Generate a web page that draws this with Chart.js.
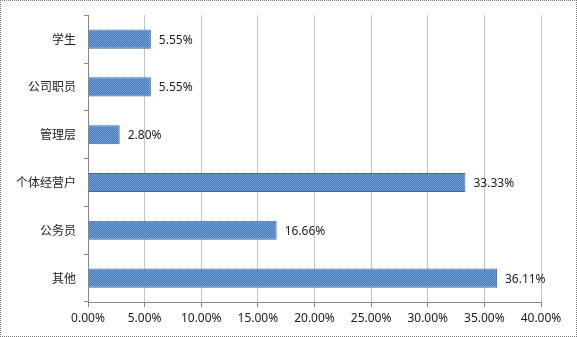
<!DOCTYPE html>
<html>
<head>
<meta charset="utf-8">
<script src="https://cdn.jsdelivr.net/npm/chart.js@4/dist/chart.umd.min.js"></script>
<style>
    body { margin: 0; background: #fff; }
    #wrap { position: relative; width: 577px; height: 337px; }
    #frame { position: absolute; left: 0; top: 0; right: 0; bottom: 0; border: 1px dotted #777; pointer-events: none; }
</style>
</head>
<body>
<div id="wrap">
    <canvas id="chart" width="577" height="337"></canvas>
    <div id="frame"></div>
</div>
<script>
const categories = ['学生', '公司职员', '管理层', '个体经营户', '公务员', '其他'];
const shares = [5.55, 5.55, 2.80, 33.33, 16.66, 36.11];
const xTicks = [0, 5, 10, 15, 20, 25, 30, 35, 40];

// fine hatch texture like the original fill
function makePattern() {
    const c = document.createElement('canvas');
    c.width = 2;
    c.height = 2;
    const g = c.getContext('2d');
    g.fillStyle = '#4a7dbb';
    g.fillRect(0, 0, 2, 2);
    g.fillStyle = '#6f9bd0';
    g.fillRect(0, 0, 1, 1);
    g.fillRect(1, 1, 1, 1);
    return g.createPattern(c, 'repeat');
}

const valueLabels = {
    id: 'valueLabels',
    afterDatasetsDraw(chart) {
        const ctx = chart.ctx;
        ctx.save();
        ctx.font = '12px "Noto Sans", sans-serif';
        ctx.fillStyle = '#222';
        ctx.textBaseline = 'middle';
        chart.getDatasetMeta(0).data.forEach((bar, i) => {
            ctx.fillText(shares[i].toFixed(2) + '%', bar.x + 8, bar.y + 1);
        });
        ctx.restore();
    }
};

new Chart(document.getElementById('chart'), {
    type: 'bar',
    data: {
        labels: categories,
        datasets: [{
            data: shares,
            backgroundColor: makePattern(),
            borderColor: '#3d6ba6',
            borderWidth: 1,
            barPercentage: 0.8,
            categoryPercentage: 0.5
        }]
    },
    options: {
        indexAxis: 'y',
        responsive: false,
        animation: false,
        layout: { padding: { left: 0, top: 14, right: 36, bottom: 0 } },
        plugins: {
            legend: { display: false },
            tooltip: { enabled: false }
        },
        scales: {
            x: {
                min: 0,
                max: 40,
                afterBuildTicks(scale) {
                    scale.ticks = xTicks.map(v => ({ value: v }));
                },
                afterFit(scale) { scale.height = 35; },
                ticks: {
                    color: '#222',
                    font: { family: '"Noto Sans", sans-serif', size: 12 },
                    padding: 4,
                    callback: v => v.toFixed(2) + '%'
                },
                grid: { color: '#c4c4c4', tickColor: '#888', tickLength: 5 },
                border: { color: '#888' }
            },
            y: {
                afterFit(scale) { scale.width = 88; },
                ticks: {
                    color: '#222',
                    font: { family: '"Noto Sans CJK SC", sans-serif', size: 12 },
                    padding: 8
                },
                grid: { drawOnChartArea: false, tickColor: '#888', tickLength: 4 },
                border: { color: '#888' }
            }
        }
    },
    plugins: [valueLabels]
});
</script>
</body>
</html>
